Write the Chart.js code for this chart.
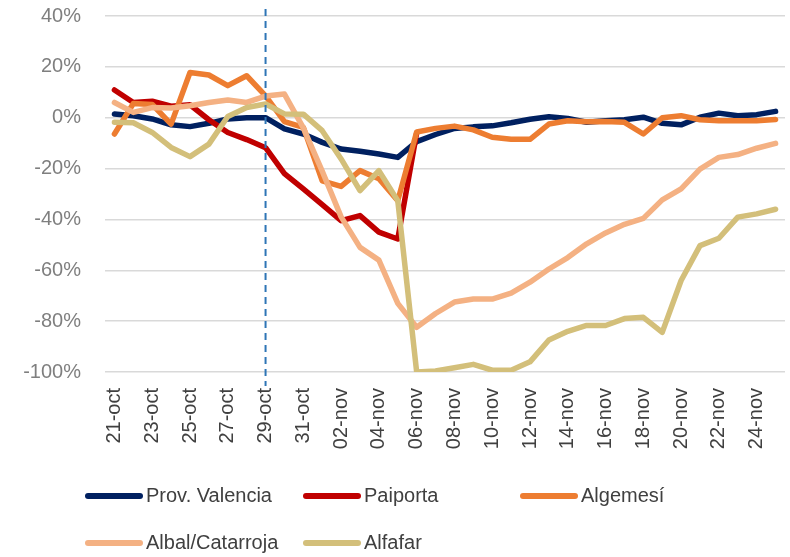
<!DOCTYPE html>
<html><head><meta charset="utf-8">
<script src="https://cdn.jsdelivr.net/npm/chart.js@4"></script>
<style>html,body{margin:0;padding:0;background:#fff}</style>
</head><body>
<canvas id="c" width="790" height="557"></canvas>
<script>
const categories = ['21-oct','22-oct','23-oct','24-oct','25-oct','26-oct','27-oct','28-oct','29-oct','30-oct','31-oct',
  '01-nov','02-nov','03-nov','04-nov','05-nov','06-nov','07-nov','08-nov','09-nov','10-nov','11-nov','12-nov','13-nov',
  '14-nov','15-nov','16-nov','17-nov','18-nov','19-nov','20-nov','21-nov','22-nov','23-nov','24-nov','25-nov'];

const seriesNames = ['Prov. Valencia','Paiporta','Algemesí','Albal/Catarroja','Alfafar'];
const seriesColors = ['#002060','#C00000','#ED7D31','#F4B183','#D3BF7A'];

const provValencia = [1.5,0.8,-0.5,-2.8,-3.5,-2.2,-0.5,0,0,-4.4,-6.4,-9.7,-12.3,-13.2,-14.3,-15.6,-9.4,-6.6,-4.2,-3.6,-3.2,-2,-0.6,0.4,-0.3,-1.8,-1.2,-0.8,0.2,-2.2,-2.8,0.2,1.8,0.8,1.2,2.5];
const paiporta = [10.9,6,6.5,4.5,5.1,-0.8,-5.8,-8.6,-11.8,-22,-28,-34.2,-40.5,-38.5,-45,-47.7,-6,null,null,null,null,null,null,null,null,null,null,null,null,null,null,null,null,null,null,null];
const algemesi = [-6.4,5.6,5.2,-2.5,17.8,16.8,12.6,16.5,8.6,-1.5,-3.8,-24.8,-27,-20.8,-24,-32.6,-5.6,-4.2,-3.3,-4.8,-7.7,-8.5,-8.5,-2.5,-1.2,-1.6,-1.5,-1.8,-6.4,0,0.8,-0.8,-1.2,-1.2,-1.2,-0.7];
const albalCatarroja = [6,2.1,4,3.8,4.7,6,7,6,8.5,9.3,-4,-21,-39,-51,-56,-73,-82.4,-77,-72.5,-71.3,-71.3,-69,-64.7,-59.5,-55,-49.6,-45.3,-41.9,-39.6,-32.3,-28,-20.2,-15.6,-14.5,-12,-10.1];
const alfafar = [-1.8,-2,-5.8,-11.7,-15.3,-10.4,0.5,4,5.4,1.5,1.4,-5.1,-16.2,-28.7,-20.8,-32.6,-100,-99.6,-98.3,-97,-99.3,-99.3,-96,-87.4,-84,-81.7,-81.7,-79,-78.5,-84.4,-64,-50.3,-47.4,-39.1,-37.8,-36];

const yMin = -100, yMax = 40, yStep = 20;
const markerDate = '29-oct';
const FONT = '"Liberation Sans", Arial, sans-serif';

const seriesData = [provValencia, paiporta, algemesi, albalCatarroja, alfafar];

const markerLine = {
  id: 'markerLine',
  afterDatasetsDraw(chart) {
    const ctx = chart.ctx, xs = chart.scales.x, a = chart.chartArea;
    const px = xs.getPixelForValue(categories.indexOf(markerDate));
    ctx.save();
    ctx.strokeStyle = '#2E75B6';
    ctx.lineWidth = 2;
    ctx.setLineDash([7, 5]);
    ctx.beginPath();
    ctx.moveTo(px, a.top - 7);
    ctx.lineTo(px, a.bottom + 14);
    ctx.stroke();
    ctx.restore();
  }
};

const gridLegend = {
  id: 'gridLegend',
  afterDraw(chart) {
    const ctx = chart.ctx;
    const cols = [85, 303, 520], rows = [496, 543];
    chart.data.datasets.forEach((ds, i) => {
      const x = cols[i % 3], y = rows[Math.floor(i / 3)];
      ctx.save();
      ctx.strokeStyle = ds.borderColor;
      ctx.lineWidth = 6;
      ctx.lineCap = 'round';
      ctx.beginPath();
      ctx.moveTo(x + 3, y);
      ctx.lineTo(x + 55, y);
      ctx.stroke();
      ctx.fillStyle = '#404040';
      ctx.font = '20px ' + FONT;
      ctx.textBaseline = 'middle';
      ctx.fillText(ds.label, x + 61, y);
      ctx.restore();
    });
  }
};

new Chart(document.getElementById('c'), {
  type: 'line',
  data: {
    labels: categories,
    datasets: seriesNames.map((name, i) => ({
      label: name,
      data: seriesData[i],
      borderColor: seriesColors[i],
      backgroundColor: seriesColors[i],
      borderWidth: 5.5,
      pointRadius: 0,
      tension: 0,
      borderJoinStyle: 'round',
      borderCapStyle: 'round',
      spanGaps: false,
      order: seriesNames.length - i
    }))
  },
  options: {
    responsive: false,
    animation: false,
    layout: { padding: { top: 16, right: 5, bottom: 105, left: 0 } },
    plugins: { legend: { display: false }, tooltip: { enabled: false } },
    scales: {
      x: {
        type: 'category',
        offset: true,
        grid: { display: false },
        border: { display: false },
        ticks: {
          autoSkip: false, minRotation: 90, maxRotation: 90, padding: 8,
          color: '#404040', font: { size: 20, family: FONT },
          callback: (v, i) => (i % 2 === 0 ? categories[i] : '')
        },
        afterFit: s => { s.height = 80; s.paddingLeft = 0; s.paddingRight = 0; }
      },
      y: {
        min: yMin, max: yMax,
        grid: { color: '#D9D9D9', lineWidth: 1.5, drawTicks: false },
        border: { display: false },
        ticks: {
          stepSize: yStep, padding: 24,
          color: '#7F7F7F', font: { size: 20, family: FONT },
          callback: v => v + '%'
        },
        afterFit: s => { s.width = 105; s.paddingTop = 0; s.paddingBottom = 0; }
      }
    }
  },
  plugins: [markerLine, gridLegend]
});
</script>
</body></html>
